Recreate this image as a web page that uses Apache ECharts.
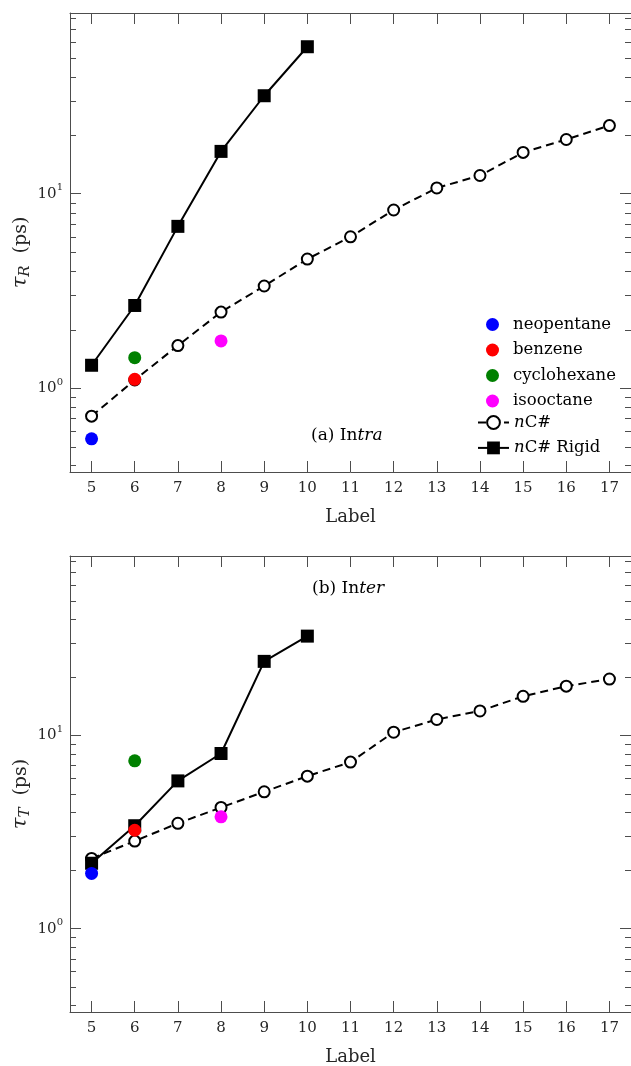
<!DOCTYPE html>
<html>
<head>
<meta charset="utf-8">
<script src="https://cdn.jsdelivr.net/npm/echarts@6/dist/echarts.min.js"></script>
<style>
  html, body { margin: 0; padding: 0; background: #fff; }
  #chart { width: 631px; height: 1066px; }
</style>
</head>
<body>
<div id="chart"></div>
<script>
// Chain length labels on the x axis
const labels = ['5', '6', '7', '8', '9', '10', '11', '12', '13', '14', '15', '16', '17'];

// (a) intramolecular relaxation time, ps
const intraChain = [0.717, 1.10, 1.654, 2.46, 3.35, 4.61, 6.0, 8.24, 10.7, 12.4, 16.3, 19.0, 22.4];
const intraRigid = [1.31, 2.66, 6.79, 16.5, 31.9, 57.0];

// (b) intermolecular relaxation time, ps
const interChain = [2.31, 2.84, 3.51, 4.24, 5.11, 6.16, 7.28, 10.4, 12.1, 13.4, 15.96, 18.0, 19.6];
const interRigid = [2.18, 3.41, 5.82, 8.07, 24.2, 32.7];

// Single molecules: name, x label, value in (a), value in (b)
const moleculeNames = ['neopentane', 'benzene', 'cyclohexane', 'isooctane'];
const moleculeLabels = ['5', '6', '6', '8'];
const moleculeIntra = [0.548, 1.109, 1.434, 1.747];
const moleculeInter = [1.93, 3.23, 7.39, 3.79];

// Minor tick positions on the log axes
const minorTicks = [0.4, 0.5, 0.6, 0.7, 0.8, 0.9, 2, 3, 4, 5, 6, 7, 8, 9, 20, 30, 40, 50, 60, 70, 80];

const yMin = 0.37, yMax = 85;

const FONT = 'DejaVu Serif';
const AXIS = '#4d4d4d';
const TEXT = '#262626';
const moleculeColors = ['#0000ff', '#ff0000', '#008000', '#ff00ff'];

const chart = echarts.init(document.getElementById('chart'), null, { renderer: 'canvas' });

function powLabel(v) {
  const e = Math.log10(v);
  const r = Math.round(e);
  return Math.abs(e - r) < 1e-6 ? '{b|10}{sup|' + r + '}' : '';
}

function xAxes(gridIndex) {
  const base = {
    type: 'category', gridIndex, data: labels, boundaryGap: true,
    axisLine: { show: true, lineStyle: { color: AXIS, width: 1 } },
    axisTick: { show: true, inside: true, alignWithLabel: true, length: 11, lineStyle: { color: AXIS } },
    splitLine: { show: false }
  };
  return [
    Object.assign({}, base, {
      position: 'bottom',
      name: 'Label', nameLocation: 'middle', nameGap: 36, nameMoveOverlap: false,
      nameTextStyle: { fontFamily: FONT, fontSize: 18, color: TEXT },
      axisLabel: { margin: 9, fontFamily: FONT, fontSize: 15, color: TEXT }
    }),
    Object.assign({}, base, { position: 'top', axisLabel: { show: false } })
  ];
}

function yAxes(gridIndex, sub) {
  const base = {
    type: 'log', logBase: 10, gridIndex, min: yMin, max: yMax,
    axisLine: { show: true, lineStyle: { color: AXIS, width: 1 } },
    axisTick: { show: true, inside: true, length: 11, lineStyle: { color: AXIS } },
    splitLine: { show: false }
  };
  return [
    Object.assign({}, base, {
      position: 'left',
      name: '{t|τ}{s|' + sub + '}{p|(ps)}',
      nameLocation: 'middle', nameRotate: 90, nameGap: 37, nameMoveOverlap: false,
      nameTextStyle: {
        fontFamily: FONT, color: TEXT, padding: [0, 20, 0, 0],
        rich: {
          t: { fontFamily: FONT, fontStyle: 'italic', fontSize: 21, lineHeight: 24, color: TEXT },
          s: { fontFamily: FONT, fontStyle: 'italic', fontSize: 15, lineHeight: 15, verticalAlign: 'bottom', color: TEXT },
          p: { fontFamily: FONT, fontSize: 19, lineHeight: 24, padding: [0, 0, 0, 12], color: TEXT }
        }
      },
      axisLabel: {
        margin: 7, fontFamily: FONT, fontSize: 15, color: TEXT,
        formatter: powLabel,
        rich: {
          b: { fontFamily: FONT, fontSize: 15, lineHeight: 22, color: TEXT },
          sup: { fontFamily: FONT, fontSize: 10, lineHeight: 10, verticalAlign: 'top', color: TEXT }
        }
      }
    }),
    Object.assign({}, base, { position: 'right', axisLine: { show: false }, axisLabel: { show: false } })
  ];
}

function minorTickSeries(xi, yi) {
  return {
    type: 'custom', xAxisIndex: xi, yAxisIndex: yi, silent: true, z: 1,
    data: minorTicks.map(v => [labels[0], v]),
    encode: { x: 0, y: 1 },
    renderItem: (params, api) => {
      const cs = params.coordSys;
      const y = Math.round(api.coord([api.value(0), api.value(1)])[1]) + 0.5;
      const st = { stroke: AXIS, lineWidth: 1 };
      return {
        type: 'group',
        children: [
          { type: 'line', shape: { x1: cs.x, y1: y, x2: cs.x + 6, y2: y }, style: st },
          { type: 'line', shape: { x1: cs.x + cs.width - 6, y1: y, x2: cs.x + cs.width, y2: y }, style: st }
        ]
      };
    }
  };
}

function panelSeries(xi, yi, chain, rigid, mol) {
  const out = [
    {
      name: 'nC#', type: 'line', xAxisIndex: xi, yAxisIndex: yi, z: 3,
      data: chain.map((v, i) => [labels[i], v]),
      symbol: 'emptyCircle', symbolSize: 11, showAllSymbol: true,
      lineStyle: { color: '#000', width: 2, type: [8, 5] },
      itemStyle: { color: '#000', borderColor: '#000', borderWidth: 2 },
      emphasis: { disabled: true }, animation: false
    },
    {
      name: 'nC# Rigid', type: 'line', xAxisIndex: xi, yAxisIndex: yi, z: 4,
      data: rigid.map((v, i) => [labels[i], v]),
      symbol: 'rect', symbolSize: 13, showAllSymbol: true,
      lineStyle: { color: '#000', width: 2 },
      itemStyle: { color: '#000' },
      emphasis: { disabled: true }, animation: false
    }
  ];
  moleculeNames.forEach((n, i) => {
    out.push({
      name: n, type: 'scatter', xAxisIndex: xi, yAxisIndex: yi, z: 5,
      data: [[moleculeLabels[i], mol[i]]],
      symbol: 'circle', symbolSize: 13,
      itemStyle: { color: moleculeColors[i], opacity: 1 },
      emphasis: { disabled: true }, animation: false
    });
  });
  return out;
}

const legendText = {
  fontFamily: FONT, fontSize: 16.5, color: '#000',
  rich: { i: { fontFamily: FONT, fontStyle: 'italic', fontSize: 16.5, color: '#000' } }
};
const legendFormatter = name => name.replace(/^n/, '{i|n}');

const noteStyle = {
  fontFamily: FONT, fontSize: 17, fontWeight: 'normal', color: '#000',
  rich: { i: { fontFamily: FONT, fontStyle: 'italic', fontSize: 17, color: '#000' } }
};

const option = {
  animation: false,
  backgroundColor: '#fff',
  grid: [
    { left: 70, top: 13, width: 561, height: 459, outerBoundsMode: 'none', containLabel: false },
    { left: 70, top: 556, width: 561, height: 456, outerBoundsMode: 'none', containLabel: false }
  ],
  xAxis: [...xAxes(0), ...xAxes(1)],
  yAxis: [...yAxes(0, 'R'), ...yAxes(1, 'T')],
  title: [
    { text: '(a) In{i|tra}', left: 311, top: 427, padding: 0, textStyle: noteStyle },
    { text: '(b) In{i|ter}', left: 312, top: 580, padding: 0, textStyle: noteStyle }
  ],
  legend: [
    {
      data: moleculeNames, orient: 'vertical', left: 486, top: 316, padding: 0,
      itemWidth: 31, itemHeight: 13, itemGap: 8.5, icon: 'circle',
      selectedMode: false, textStyle: legendText
    },
    {
      data: ['nC#', 'nC# Rigid'], orient: 'vertical', left: 477, top: 414, padding: 0,
      itemWidth: 31, itemHeight: 16, itemGap: 8.4,
      selectedMode: false, textStyle: legendText, formatter: legendFormatter
    }
  ],
  series: [
    minorTickSeries(0, 0),
    minorTickSeries(2, 2),
    ...panelSeries(0, 0, intraChain, intraRigid, moleculeIntra),
    ...panelSeries(2, 2, interChain, interRigid, moleculeInter)
  ]
};

chart.setOption(option);
</script>
</body>
</html>
